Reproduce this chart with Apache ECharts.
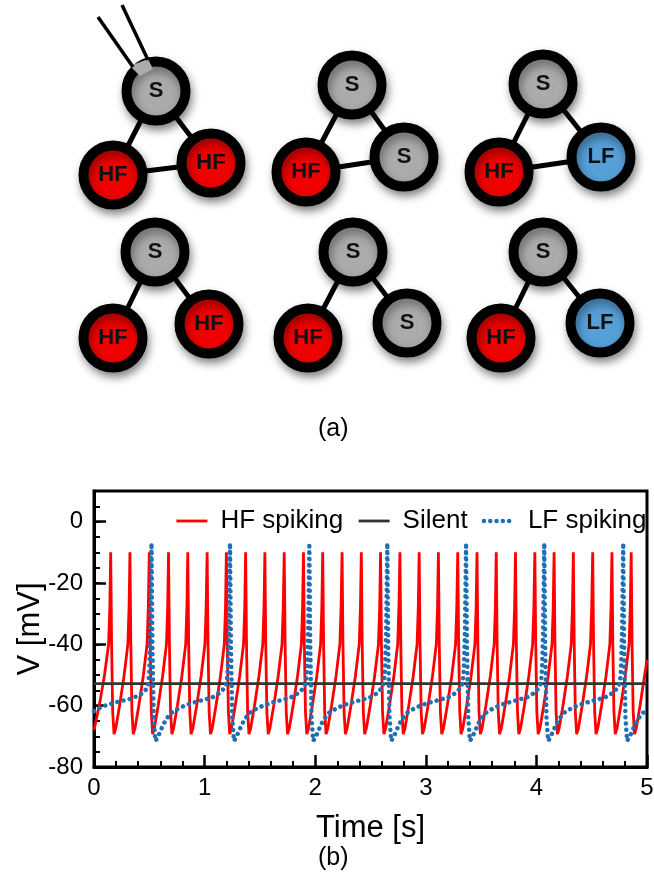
<!DOCTYPE html>
<html>
<head>
<meta charset="utf-8">
<script src="https://cdn.jsdelivr.net/npm/echarts@6/dist/echarts.min.js"></script>
<style>
html,body{margin:0;padding:0;background:#fff;}
#c{width:654px;height:882px;}
</style>
</head>
<body>
<div id="c"></div>
<script>
// ---------- panel (a): network motifs ----------
const nodeNames = ['S','HF','HF', 'S','HF','S', 'S','HF','LF', 'S','HF','HF', 'S','HF','S', 'S','HF','LF'];
const nodeX = [156,113,211, 352,306,404, 543,499,601, 155,113,209, 353,308,407, 543,501,600];
const nodeY = [91,175,163, 85,172,157, 84,172,157, 252,338,324, 252,338,323, 252,338,323];
const nodeLinks = [[0,1],[0,2],[1,2],[3,4],[3,5],[4,5],[6,7],[6,8],[7,8],[9,10],[9,11],[12,13],[12,14],[15,16],[15,17]];
const electrodeLines = [[[98,17],[133,67]], [[122,5],[148,60]]];
const electrodeTip = [[130,66],[148,59],[153,69],[140,76]];
const nodeColors = {S:'#ababab', HF:'#f00000', LF:'#56a0d8'};

// ---------- panel (b): membrane potential traces ----------
const seriesNames = ['HF spiking','Silent','LF spiking'];
const hfTrace = [
 [0,-68],[0.05,-59.5],[0.095,-50],[0.132,-40],[0.143,-28],
 [0.151,-10],[0.159,-40],[0.169,-62],[0.181,-69.3],[0.196,-67.5],[0.231,-60],[0.271,-50.5],[0.306,-40],[0.317,-28],
 [0.325,-10],[0.333,-40],[0.343,-62],[0.355,-69.3],[0.370,-67.5],[0.405,-60],[0.445,-50.5],[0.480,-40],[0.491,-28],
 [0.500,-10],[0.508,-40],[0.518,-62],[0.530,-69.3],[0.545,-67.5],[0.580,-60],[0.620,-50.5],[0.655,-40],[0.666,-28],
 [0.674,-10],[0.682,-40],[0.692,-62],[0.704,-69.3],[0.719,-67.5],[0.754,-60],[0.794,-50.5],[0.829,-40],[0.840,-28],
 [0.848,-10],[0.856,-40],[0.866,-62],[0.878,-69.3],[0.893,-67.5],[0.928,-60],[0.968,-50.5],[1.003,-40],[1.014,-28],
 [1.023,-10],[1.031,-40],[1.041,-62],[1.053,-69.3],[1.068,-67.5],[1.103,-60],[1.143,-50.5],[1.178,-40],[1.189,-28],
 [1.197,-10],[1.205,-40],[1.215,-62],[1.227,-69.3],[1.242,-67.5],[1.277,-60],[1.317,-50.5],[1.352,-40],[1.363,-28],
 [1.371,-10],[1.379,-40],[1.389,-62],[1.401,-69.3],[1.416,-67.5],[1.451,-60],[1.491,-50.5],[1.526,-40],[1.537,-28],
 [1.545,-10],[1.553,-40],[1.563,-62],[1.575,-69.3],[1.590,-67.5],[1.625,-60],[1.665,-50.5],[1.700,-40],[1.711,-28],
 [1.720,-10],[1.728,-40],[1.738,-62],[1.750,-69.3],[1.765,-67.5],[1.800,-60],[1.840,-50.5],[1.875,-40],[1.886,-28],
 [1.894,-10],[1.902,-40],[1.912,-62],[1.924,-69.3],[1.939,-67.5],[1.974,-60],[2.014,-50.5],[2.049,-40],[2.060,-28],
 [2.068,-10],[2.076,-40],[2.086,-62],[2.098,-69.3],[2.113,-67.5],[2.148,-60],[2.188,-50.5],[2.223,-40],[2.234,-28],
 [2.243,-10],[2.251,-40],[2.261,-62],[2.273,-69.3],[2.288,-67.5],[2.323,-60],[2.363,-50.5],[2.398,-40],[2.409,-28],
 [2.417,-10],[2.425,-40],[2.435,-62],[2.447,-69.3],[2.462,-67.5],[2.497,-60],[2.537,-50.5],[2.572,-40],[2.583,-28],
 [2.591,-10],[2.599,-40],[2.609,-62],[2.621,-69.3],[2.636,-67.5],[2.671,-60],[2.711,-50.5],[2.746,-40],[2.757,-28],
 [2.766,-10],[2.774,-40],[2.784,-62],[2.796,-69.3],[2.811,-67.5],[2.846,-60],[2.886,-50.5],[2.921,-40],[2.932,-28],
 [2.940,-10],[2.948,-40],[2.958,-62],[2.970,-69.3],[2.985,-67.5],[3.020,-60],[3.060,-50.5],[3.095,-40],[3.106,-28],
 [3.114,-10],[3.122,-40],[3.132,-62],[3.144,-69.3],[3.159,-67.5],[3.194,-60],[3.234,-50.5],[3.269,-40],[3.280,-28],
 [3.289,-10],[3.297,-40],[3.307,-62],[3.319,-69.3],[3.334,-67.5],[3.369,-60],[3.409,-50.5],[3.444,-40],[3.455,-28],
 [3.463,-10],[3.471,-40],[3.481,-62],[3.493,-69.3],[3.508,-67.5],[3.543,-60],[3.583,-50.5],[3.618,-40],[3.629,-28],
 [3.637,-10],[3.645,-40],[3.655,-62],[3.667,-69.3],[3.682,-67.5],[3.717,-60],[3.757,-50.5],[3.792,-40],[3.803,-28],
 [3.811,-10],[3.819,-40],[3.829,-62],[3.841,-69.3],[3.856,-67.5],[3.891,-60],[3.931,-50.5],[3.966,-40],[3.977,-28],
 [3.986,-10],[3.994,-40],[4.004,-62],[4.016,-69.3],[4.031,-67.5],[4.066,-60],[4.106,-50.5],[4.141,-40],[4.152,-28],
 [4.160,-10],[4.168,-40],[4.178,-62],[4.190,-69.3],[4.205,-67.5],[4.240,-60],[4.280,-50.5],[4.315,-40],[4.326,-28],
 [4.334,-10],[4.342,-40],[4.352,-62],[4.364,-69.3],[4.379,-67.5],[4.414,-60],[4.454,-50.5],[4.489,-40],[4.500,-28],
 [4.509,-10],[4.517,-40],[4.527,-62],[4.539,-69.3],[4.554,-67.5],[4.589,-60],[4.629,-50.5],[4.664,-40],[4.675,-28],
 [4.683,-10],[4.691,-40],[4.701,-62],[4.713,-69.3],[4.728,-67.5],[4.763,-60],[4.803,-50.5],[4.838,-40],[4.849,-28],
 [4.857,-10],[4.865,-40],[4.875,-62],[4.887,-69.3],[4.902,-67.5],[4.937,-60],[4.977,-50.5],[5.000,-45]
];
const silentTrace = [[0,-52.8],[5,-52.8]];
const lfTrace = [
 [0,-61.8],[0.08,-60.2],[0.15,-59.4],[0.23,-58.6],[0.31,-58],[0.39,-56.9],[0.45,-55.7],[0.49,-53.7],[0.50,-49],[0.508,-38],[0.514,-22],
 [0.52,-7],[0.528,-40],[0.54,-64],[0.555,-71.5],[0.58,-70],[0.61,-67.5],[0.65,-64.5],[0.70,-62.3],[0.76,-61],[0.83,-59.8],[0.92,-58.8],[1.00,-58],[1.07,-57.3],[1.14,-55.8],[1.18,-54.2],[1.20,-52.5],[1.21,-48],[1.22,-35],
 [1.23,-7],[1.238,-40],[1.25,-64],[1.265,-71.5],[1.29,-70],[1.32,-67.5],[1.36,-64.5],[1.41,-62.3],[1.47,-61],[1.54,-59.8],[1.63,-58.8],[1.71,-58],[1.78,-57.3],[1.85,-55.8],[1.897,-54.2],[1.917,-52.5],[1.927,-48],[1.937,-35],
 [1.947,-7],[1.955,-40],[1.967,-64],[1.982,-71.5],[2.007,-70],[2.037,-67.5],[2.077,-64.5],[2.127,-62.3],[2.187,-61],[2.257,-59.8],[2.347,-58.8],[2.427,-58],[2.497,-57.3],[2.567,-55.8],[2.602,-54.2],[2.622,-52.5],[2.632,-48],[2.642,-35],
 [2.652,-7],[2.66,-40],[2.672,-64],[2.687,-71.5],[2.712,-70],[2.742,-67.5],[2.782,-64.5],[2.832,-62.3],[2.892,-61],[2.962,-59.8],[3.052,-58.8],[3.132,-58],[3.202,-57.3],[3.272,-55.8],[3.314,-54.2],[3.334,-52.5],[3.344,-48],[3.354,-35],
 [3.364,-7],[3.372,-40],[3.384,-64],[3.399,-71.5],[3.424,-70],[3.454,-67.5],[3.494,-64.5],[3.544,-62.3],[3.604,-61],[3.674,-59.8],[3.764,-58.8],[3.844,-58],[3.914,-57.3],[3.984,-55.8],[4.021,-54.2],[4.041,-52.5],[4.051,-48],[4.061,-35],
 [4.071,-7],[4.079,-40],[4.091,-64],[4.106,-71.5],[4.131,-70],[4.161,-67.5],[4.201,-64.5],[4.251,-62.3],[4.311,-61],[4.381,-59.8],[4.471,-58.8],[4.551,-58],[4.621,-57.3],[4.691,-55.8],[4.735,-54.2],[4.755,-52.5],[4.765,-48],[4.775,-35],
 [4.785,-7],[4.793,-40],[4.805,-64],[4.82,-71.5],[4.845,-70],[4.875,-67.5],[4.915,-64.5],[4.965,-62.3],[5.0,-61.5]
];
const xTicks = [0,1,2,3,4,5];
const yTicks = [-80,-60,-40,-20,0];

const FONT = 'Liberation Sans, Arial, Helvetica, sans-serif';

const chart = echarts.init(document.getElementById('c'), null, {renderer:'canvas'});

const nodeData = nodeNames.map((n,i)=>({
  name:n, value:[nodeX[i], nodeY[i]],
  itemStyle:{color:nodeColors[n]}
}));
const linkData = nodeLinks.map(([a,b])=>({coords:[[nodeX[a],nodeY[a]],[nodeX[b],nodeY[b]]]}));
const electrodeData = electrodeLines.map(c=>({coords:c}));

const option = {
  animation:false,
  backgroundColor:'#fff',
  grid:[
    {left:94, right:7, top:491, bottom:115, show:true, borderColor:'#000', borderWidth:3, containLabel:false, outerBoundsMode:'none'},
    {left:0, top:0, width:654, height:470, show:false, containLabel:false, outerBoundsMode:'none'}
  ],
  xAxis:[
    {type:'value', gridIndex:0, min:0, max:5, interval:1,
     axisLine:{show:true, onZero:false, lineStyle:{color:'#000', width:3}},
     axisTick:{show:true, inside:true, length:12, lineStyle:{color:'#000', width:2.5}},
     minorTick:{show:true, splitNumber:5, length:6, lineStyle:{color:'#000', width:2}},
     axisLabel:{show:true, fontSize:24, color:'#000', fontFamily:FONT, margin:9, showMinLabel:true, showMaxLabel:true,
       formatter:v=>xTicks.indexOf(v)>=0?String(v):''},
     splitLine:{show:false},
     name:'Time [s]', nameLocation:'middle', nameGap:46, nameMoveOverlap:false,
     nameTextStyle:{fontSize:31, color:'#000', fontFamily:FONT}},
    {type:'value', gridIndex:1, min:0, max:654, show:false}
  ],
  yAxis:[
    {type:'value', gridIndex:0, min:-80, max:10, interval:20,
     axisLine:{show:true, onZero:false, lineStyle:{color:'#000', width:3}},
     axisTick:{show:true, inside:true, length:12, lineStyle:{color:'#000', width:2.5}},
     minorTick:{show:false},
     axisLabel:{show:true, fontSize:24, color:'#000', fontFamily:FONT, margin:11, showMinLabel:true, showMaxLabel:false,
       formatter:v=>yTicks.indexOf(v)>=0?String(v):''},
     splitLine:{show:false},
     name:'V [mV]', nameLocation:'middle', nameGap:48, nameRotate:90, nameMoveOverlap:false,
     nameTextStyle:{fontSize:31, color:'#000', fontFamily:FONT}},
    {type:'value', gridIndex:1, min:0, max:470, inverse:true, show:false},
    {type:'value', gridIndex:0, min:-80, max:10, interval:5, position:'left',
     axisLine:{show:false}, axisLabel:{show:false}, splitLine:{show:false},
     axisTick:{show:true, inside:true, length:6, lineStyle:{color:'#000', width:2}}}
  ],
  legend:{
    data:seriesNames, left:175, top:508, orient:'horizontal', padding:0, width:479,
    itemWidth:31, itemHeight:14, itemGap:14,
    itemStyle:{opacity:0},
    lineStyle:{width:'inherit'},
    textStyle:{fontSize:26, color:'#000', fontFamily:FONT, padding:[0,0,0,8]},
    selectedMode:false
  },
  graphic:[
    {type:'text', left:318, top:417, style:{text:'(a)', font:'25px '+FONT, fill:'#000'}},
    {type:'text', left:318, top:846, style:{text:'(b)', font:'25px '+FONT, fill:'#000'}}
  ],
  series:[
    {name:seriesNames[0], type:'line', xAxisIndex:0, yAxisIndex:0, data:hfTrace, symbol:'none', smooth:false,
     lineStyle:{color:'#ff0000', width:2.8}, itemStyle:{color:'#ff0000'}, z:2, silent:true},
    {name:seriesNames[1], type:'line', xAxisIndex:0, yAxisIndex:0, data:silentTrace, symbol:'none',
     lineStyle:{color:'#333333', width:2.8}, itemStyle:{color:'#333333'}, z:3, silent:true},
    {name:seriesNames[2], type:'line', xAxisIndex:0, yAxisIndex:0, data:lfTrace, symbol:'none', smooth:false,
     lineStyle:{color:'#1f6fb4', width:4.5, type:[0.01,6.3], cap:'round', join:'round'}, itemStyle:{color:'#1f6fb4'}, z:4, silent:true},
    // diagram
    {type:'lines', coordinateSystem:'cartesian2d', xAxisIndex:1, yAxisIndex:1, data:linkData, z:5, silent:true,
     lineStyle:{color:'#000', width:5, opacity:1}},
    {type:'scatter', xAxisIndex:1, yAxisIndex:1, data:nodeData, symbol:'circle', symbolSize:59, z:6, silent:true,
     itemStyle:{borderColor:'#000', borderWidth:10, opacity:1, shadowBlur:10, shadowColor:'rgba(0,0,0,0.4)', shadowOffsetX:2, shadowOffsetY:5},
     label:{show:true, position:'inside', formatter:'{b}', fontSize:22, fontWeight:'bold', color:'#111', fontFamily:FONT},
     emphasis:{disabled:true}},
    {type:'custom', xAxisIndex:1, yAxisIndex:1, data:[[0,0]], z:7, silent:true,
     renderItem:(params, api)=>({type:'polygon', shape:{points:electrodeTip.map(p=>api.coord(p))}, style:{fill:'#ababab'}})},
    {type:'lines', coordinateSystem:'cartesian2d', xAxisIndex:1, yAxisIndex:1, data:electrodeData, z:8, silent:true,
     lineStyle:{color:'#000', width:3.5, opacity:1}}
  ]
};
chart.setOption(option);
</script>
</body>
</html>
